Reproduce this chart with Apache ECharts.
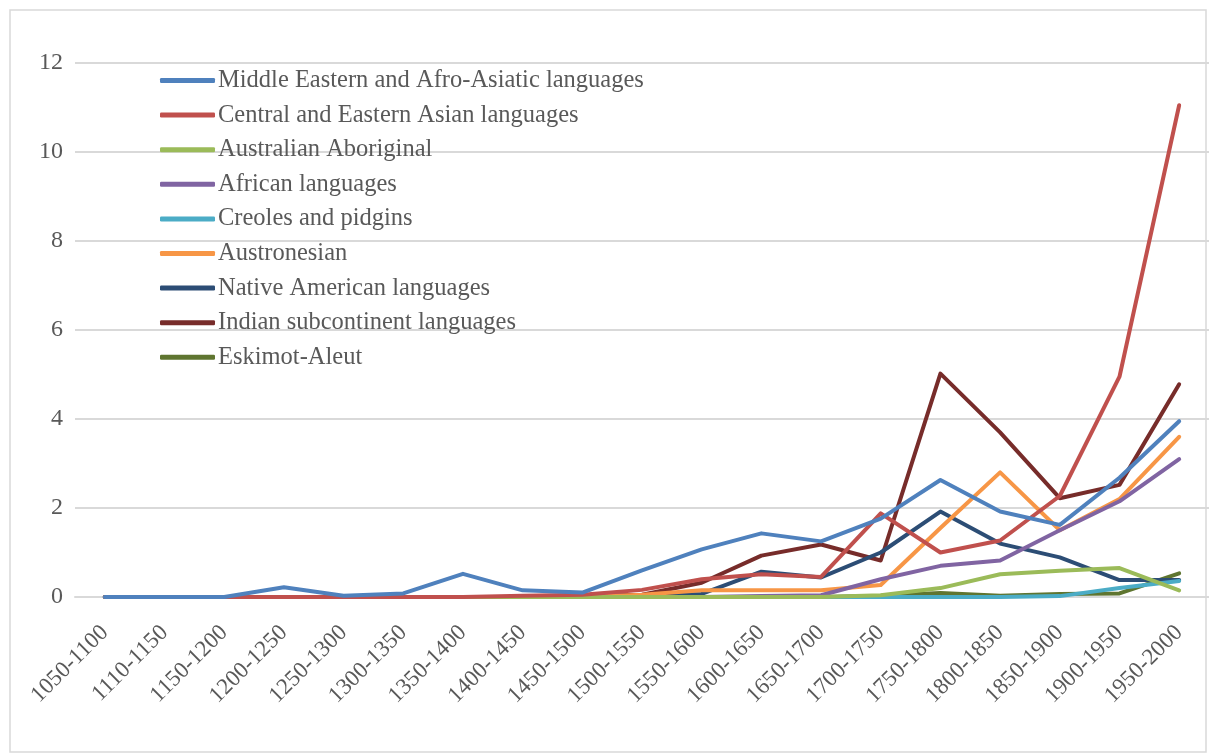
<!DOCTYPE html>
<html>
<head>
<meta charset="utf-8">
<script src="https://cdn.jsdelivr.net/npm/echarts@6/dist/echarts.min.js"></script>
<style>
  html, body { margin: 0; padding: 0; background: #fff; }
  #main { width: 1209px; height: 756px; }
</style>
</head>
<body>
<div id="main"></div>
<script>
// periods on the x axis
var periods = ['1050-1100', '1110-1150', '1150-1200', '1200-1250', '1250-1300', '1300-1350',
  '1350-1400', '1400-1450', '1450-1500', '1500-1550', '1550-1600', '1600-1650', '1650-1700',
  '1700-1750', '1750-1800', '1800-1850', '1850-1900', '1900-1950', '1950-2000'];

var yTicks = [0, 2, 4, 6, 8, 10, 12];

// values
var middleEastern = [0, 0, 0, 0.22, 0.03, 0.08, 0.52, 0.15, 0.1, 0.6, 1.07, 1.43, 1.25, 1.76, 2.63, 1.92, 1.62, 2.68, 3.95];
var centralEastAsian = [0, 0, 0, 0, 0, 0, 0, 0.03, 0.05, 0.16, 0.4, 0.51, 0.45, 1.88, 1.0, 1.27, 2.27, 4.95, 11.05];
var australian = [0, 0, 0, 0, 0, 0, 0, 0, 0, 0, 0, 0, 0, 0.04, 0.2, 0.51, 0.59, 0.65, 0.15];
var african = [0, 0, 0, 0, 0, 0, 0, 0, 0, 0, 0, 0.02, 0.04, 0.4, 0.7, 0.82, 1.5, 2.15, 3.1];
var creoles = [0, 0, 0, 0, 0, 0, 0, 0, 0, 0, 0, 0, 0, 0, 0, 0, 0.02, 0.2, 0.36];
var austronesian = [0, 0, 0, 0, 0, 0, 0, 0, 0, 0.05, 0.15, 0.15, 0.15, 0.27, 1.55, 2.8, 1.5, 2.2, 3.6];
var nativeAmerican = [0, 0, 0, 0, 0, 0, 0, 0, 0, 0.02, 0.07, 0.57, 0.44, 1.0, 1.92, 1.2, 0.89, 0.38, 0.38];
var indian = [0, 0, 0, 0, 0, 0, 0, 0, 0.02, 0.05, 0.32, 0.93, 1.18, 0.82, 5.02, 3.7, 2.22, 2.52, 4.78];
var eskimo = [0, 0, 0, 0, 0, 0, 0, 0, 0, 0, 0, 0, 0, 0.03, 0.09, 0.03, 0.07, 0.08, 0.53];

var names = ['Middle Eastern and Afro-Asiatic languages', 'Central and Eastern Asian languages',
  'Australian Aboriginal', 'African languages', 'Creoles and pidgins', 'Austronesian',
  'Native American languages', 'Indian subcontinent languages', 'Eskimot-Aleut'];
var values = [middleEastern, centralEastAsian, australian, african, creoles, austronesian,
  nativeAmerican, indian, eskimo];
var colors = ['#4F81BD', '#C0504D', '#9BBB59', '#8064A2', '#4BACC6', '#F79646', '#2C4D75', '#772C2A', '#5F7530'];

var textColor = '#595959';
var fontFam = '"Liberation Serif", "DejaVu Serif", serif';

var chart = echarts.init(document.getElementById('main'));

var series = names.map(function (n, i) {
  return {
    name: n,
    type: 'line',
    data: values[i],
    symbol: 'none',
    z: 10 - i,
    lineStyle: { width: 4, color: colors[i], cap: 'round', join: 'round' },
    itemStyle: { color: colors[i] }
  };
});

var option = {
  animation: false,
  backgroundColor: '#fff',
  color: colors,
  graphic: [{
    type: 'rect',
    shape: { x: 10, y: 10, width: 1196, height: 742 },
    style: { fill: 'none', stroke: '#d9d9d9', lineWidth: 1.5 },
    silent: true
  }],
  legend: {
    orient: 'vertical',
    left: 160,
    top: 68,
    padding: 0,
    itemWidth: 55,
    itemHeight: 5,
    itemGap: 9.6,
    icon: 'roundRect',
    textStyle: { fontFamily: fontFam, fontSize: 24.5, lineHeight: 24, color: textColor, padding: [0, 0, 0, -2] }
  },
  grid: { left: 75, top: 63, width: 1142, height: 534 },
  xAxis: {
    type: 'category',
    data: periods,
    boundaryGap: true,
    axisLine: { lineStyle: { color: '#d9d9d9', width: 2 } },
    axisTick: { show: false },
    axisLabel: {
      interval: 0,
      rotate: 45,
      margin: 32,
      fontFamily: fontFam,
      fontSize: 23,
      color: textColor
    }
  },
  yAxis: {
    type: 'value',
    min: yTicks[0],
    max: yTicks[yTicks.length - 1],
    interval: 2,
    axisLine: { show: false },
    axisTick: { show: false },
    splitLine: { lineStyle: { color: '#d9d9d9', width: 2 } },
    axisLabel: { margin: 12, fontFamily: fontFam, fontSize: 24, color: textColor }
  },
  series: series
};

chart.setOption(option);
</script>
</body>
</html>
